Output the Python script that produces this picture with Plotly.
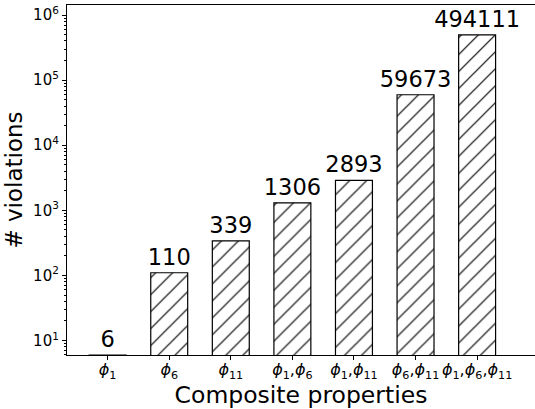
import plotly.graph_objects as go

categories = ["<i>ϕ</i><sub>1</sub>", "<i>ϕ</i><sub>6</sub>", "<i>ϕ</i><sub>11</sub>",
              "<i>ϕ</i><sub>1</sub>,<i>ϕ</i><sub>6</sub>", "<i>ϕ</i><sub>1</sub>,<i>ϕ</i><sub>11</sub>",
              "<i>ϕ</i><sub>6</sub>,<i>ϕ</i><sub>11</sub>",
              "<i>ϕ</i><sub>1</sub>,<i>ϕ</i><sub>6</sub>,<i>ϕ</i><sub>11</sub>"]
violations = [6, 110, 339, 1306, 2893, 59673, 494111]
y_tick_vals = [10, 100, 1000, 10000, 100000, 1000000]
y_tick_text = ["10<sup>1</sup>", "10<sup>2</sup>", "10<sup>3</sup>", "10<sup>4</sup>",
               "10<sup>5</sup>", "10<sup>6</sup>"]
minor_vals = [m * 10 ** e for e in range(0, 7) for m in range(2, 10)]

x_pos = list(range(len(categories)))

font = "DejaVu Sans"
fig = go.Figure(go.Bar(
    x=x_pos, y=violations, width=0.6,
    marker=dict(color="white", line=dict(color="black", width=1.2),
                pattern=dict(shape="/", fgcolor="black", bgcolor="white", fgopacity=1,
                             size=12, solidity=0.1)),
    text=[str(v) for v in violations], textposition="outside",
    textfont=dict(family=font, size=22.5, color="black"), cliponaxis=False,
))

fig.update_layout(
    width=535, height=409,
    margin=dict(l=67, r=0, t=5, b=54, autoexpand=False),
    plot_bgcolor="white", paper_bgcolor="white",
    showlegend=False,
    uniformtext=dict(minsize=22, mode="show"),
    font=dict(family=font, color="black"),
)
fig.update_xaxes(
    range=[-0.66, 6.94], tickvals=x_pos, ticktext=categories, tickangle=0,
    showline=True, linecolor="black", linewidth=1.2, mirror=True,
    ticks="outside", ticklen=4, tickcolor="black", ticklabelstandoff=-4,
    tickfont=dict(family=font, size=16),
    title=dict(text="Composite properties", font=dict(family=font, size=23.5), standoff=0),
    showgrid=False, zeroline=False, automargin=False,
)
fig.update_yaxes(
    type="log", range=[0.778, 6.154],
    tickvals=y_tick_vals, ticktext=y_tick_text,
    showline=True, linecolor="black", linewidth=1.2,
    ticks="outside", ticklen=4, tickcolor="black",
    tickfont=dict(family=font, size=15),
    minor=dict(tickvals=minor_vals, ticks="outside", ticklen=2, tickcolor="black", showgrid=False),
    title=dict(text="# violations", font=dict(family=font, size=23), standoff=4),
    showgrid=False, zeroline=False, automargin=False,
)

fig.write_html("out.html", config={"displayModeBar": False},
               post_script="document.body.style.margin='0';document.body.style.overflow='hidden';")
